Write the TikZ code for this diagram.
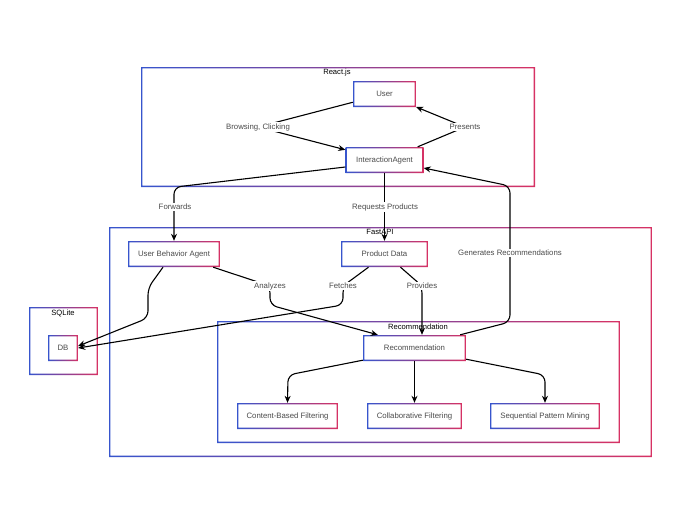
\documentclass[tikz,border=0pt]{standalone}
\usepackage{fontspec}
\setmainfont{Liberation Sans}
\usetikzlibrary{arrows.meta}
\definecolor{gblue}{RGB}{55,85,205}
\definecolor{gpink}{RGB}{215,50,100}
\definecolor{txt}{RGB}{75,75,75}
\tikzset{
  gbox/.style={inner sep=0pt, fill=white, text=txt, font=\fontsize{7.8}{9}\selectfont,
    path picture={\shade[left color=gblue,right color=gpink,even odd rule]
      (path picture bounding box.south west) rectangle (path picture bounding box.north east)
      ([shift={(1.3pt,1.3pt)}]path picture bounding box.south west) rectangle ([shift={(-1.3pt,-1.3pt)}]path picture bounding box.north east);}},
  nodebox/.style={gbox, minimum height=26pt},
  cluster/.style={gbox},
  ctitle/.style={inner sep=1pt, text=black, font=\fontsize{7.6}{9}\selectfont},
  elabel/.style={fill=white, inner sep=1.5pt, text=txt, font=\fontsize{7.8}{9}\selectfont},
  arr/.style={line width=1.1pt, draw=black, rounded corners=7pt, -{Stealth[length=7pt,width=6pt]}},
  line/.style={line width=1.1pt, draw=black, rounded corners=7pt}
}
\begin{document}
\begin{tikzpicture}[x=1pt,y=-1pt]
\useasboundingbox (0,0) rectangle (680,525);
% clusters
\node[cluster, minimum width=394pt, minimum height=120pt] (react) at (338,127) {};
\node[ctitle] (reactT) at (337,73) {React.js};
\node[cluster, minimum width=543pt, minimum height=230pt] (fastapi) at (380.5,342) {};
\node[ctitle] (fastapiT) at (380,232) {FastAPI};
\node[cluster, minimum width=69pt, minimum height=68pt] (sqlite) at (63.5,341) {};
\node[ctitle] (sqliteT) at (63,313) {SQLite};
\node[cluster, minimum width=403pt, minimum height=122pt] (recc) at (418.5,382) {};
\node[ctitle] (reccT) at (418,327) {Recommendation};
% nodes
\node[nodebox, minimum width=63pt] (user) at (384.5,94) {User};
\node[nodebox, minimum width=78pt] (ia) at (384.5,160) {InteractionAgent};
\node[nodebox, minimum width=92pt] (uba) at (174,254) {User Behavior Agent};
\node[nodebox, minimum width=87pt] (pd) at (384.5,254) {Product Data};
\node[nodebox, minimum width=30pt] (db) at (63,348) {DB};
\node[nodebox, minimum width=103pt] (rec) at (414.5,348) {Recommendation};
\node[nodebox, minimum width=101pt] (cbf) at (287.5,416) {Content-Based Filtering};
\node[nodebox, minimum width=95pt] (cf) at (414.5,416) {Collaborative Filtering};
\node[nodebox, minimum width=110pt] (spm) at (545,416) {Sequential Pattern Mining};
% label positions
\coordinate (cBC) at (258,127);
\coordinate (cPR) at (465,127);
\coordinate (cFW) at (175,207);
\coordinate (cRP) at (385,207);
\coordinate (cGR) at (510,253);
\coordinate (cAN) at (270,286);
\coordinate (cFE) at (343,286);
\coordinate (cPV) at (422,286);
% edges
\draw[arr, rounded corners=0pt] (user) -- (cBC) -- (ia);
\draw[arr, rounded corners=0pt] (ia.north east) ++(-6pt,0) -- (cPR) -- (user);
\draw[arr] ([yshift=-7pt]ia.west) -- ([yshift=-14pt]uba.north |- ia.south) -- (uba.north);
\draw[arr] (ia.south) -- (ia.south |- pd.north);
\draw[arr] ([xshift=-6pt]rec.north east) -- (510,322) -- (510,186) -- ([yshift=-8pt]ia.east);
\draw[arr] ([xshift=-11pt]uba.south) -- (148,288) -- (148,318) -- ([yshift=2pt]db.east);
\draw[arr] ([xshift=-7pt]uba.south east) -- (cAN) -- (270,305) -- ([xshift=15pt]rec.north west);
\draw[arr] ([xshift=-16pt]pd.south) -- (cFE) -- (343,305) -- (db.east);
\draw[arr] ([xshift=16pt]pd.south) -- (cPV) -- (cPV |- rec.north);
\draw[arr] ([yshift=1pt]rec.south west) -- (288,375) -- (cbf.north);
\draw[arr] (rec.south) -- (cf.north);
\draw[arr] ([yshift=2pt]rec.south east) -- (545,375) -- (spm.north);
% edge labels
\node[elabel] (lBC) at (cBC) {Browsing, Clicking};
\node[elabel] (lPR) at (cPR) {Presents};
\node[elabel] (lFW) at (cFW) {Forwards};
\node[elabel] (lRP) at (cRP) {Requests Products};
\node[elabel] (lGR) at (cGR) {Generates Recommendations};
\node[elabel] (lAN) at (cAN) {Analyzes};
\node[elabel] (lFE) at (cFE) {Fetches};
\node[elabel] (lPV) at (cPV) {Provides};
\end{tikzpicture}
\end{document}
